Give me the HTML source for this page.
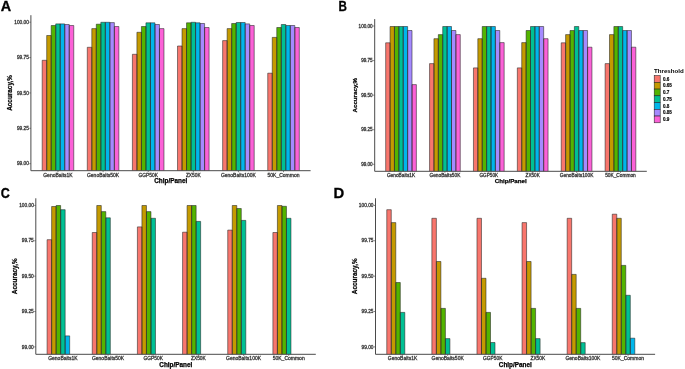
<!DOCTYPE html>
<html><head><meta charset="utf-8"><style>
html,body{margin:0;padding:0;background:#fff;}
svg{display:block;will-change:transform;}
text{font-family:"Liberation Sans",sans-serif;}
.tk{filter:url(#bl);fill:#3a3a3a;stroke:#3a3a3a;stroke-width:0.3px;}
.tx{filter:url(#bl);fill:#3a3a3a;stroke:#3a3a3a;stroke-width:0.3px;}
.tt{font-weight:bold;fill:#000;stroke:#000;stroke-width:0.25px;}
.lt{font-size:14.4px;font-weight:bold;fill:#000;stroke:#000;stroke-width:0.3px;}
.lgt{font-size:6.15px;font-weight:bold;fill:#000;}
.lg{font-size:4.6px;font-weight:bold;fill:#000;stroke:#000;stroke-width:0.15px;}
</style></head><body>
<svg width="685" height="369" viewBox="0 0 685 369">
<defs><filter id="bl" x="-5%" y="-20%" width="110%" height="140%"><feGaussianBlur stdDeviation="0.28"/></filter></defs>
<rect width="685" height="369" fill="#fff"/>
<rect x="42.18" y="60.3" width="4.51" height="110.4" fill="#F8766D"/>
<rect x="46.69" y="35.5" width="4.51" height="135.2" fill="#C49A00"/>
<rect x="51.2" y="25.5" width="4.51" height="145.2" fill="#53B400"/>
<rect x="55.71" y="23.9" width="4.51" height="146.8" fill="#00C094"/>
<rect x="60.22" y="23.9" width="4.51" height="146.8" fill="#00B6EB"/>
<rect x="64.73" y="24.5" width="4.51" height="146.2" fill="#A58AFF"/>
<rect x="69.25" y="25.5" width="4.51" height="145.2" fill="#FB61D7"/>
<rect x="87.29" y="47.3" width="4.51" height="123.4" fill="#F8766D"/>
<rect x="91.8" y="28.6" width="4.51" height="142.1" fill="#C49A00"/>
<rect x="96.31" y="24.2" width="4.51" height="146.5" fill="#53B400"/>
<rect x="100.83" y="22.3" width="4.51" height="148.4" fill="#00C094"/>
<rect x="105.34" y="22.3" width="4.51" height="148.4" fill="#00B6EB"/>
<rect x="109.85" y="22.6" width="4.51" height="148.1" fill="#A58AFF"/>
<rect x="114.36" y="26.5" width="4.51" height="144.2" fill="#FB61D7"/>
<rect x="132.4" y="54.3" width="4.51" height="116.4" fill="#F8766D"/>
<rect x="136.92" y="32.3" width="4.51" height="138.4" fill="#C49A00"/>
<rect x="141.43" y="26.5" width="4.51" height="144.2" fill="#53B400"/>
<rect x="145.94" y="22.8" width="4.51" height="147.9" fill="#00C094"/>
<rect x="150.45" y="22.8" width="4.51" height="147.9" fill="#00B6EB"/>
<rect x="154.96" y="24.5" width="4.51" height="146.2" fill="#A58AFF"/>
<rect x="159.47" y="28.6" width="4.51" height="142.1" fill="#FB61D7"/>
<rect x="177.52" y="46" width="4.51" height="124.7" fill="#F8766D"/>
<rect x="182.03" y="28.6" width="4.51" height="142.1" fill="#C49A00"/>
<rect x="186.54" y="22.8" width="4.51" height="147.9" fill="#53B400"/>
<rect x="191.05" y="22.3" width="4.51" height="148.4" fill="#00C094"/>
<rect x="195.56" y="22.8" width="4.51" height="147.9" fill="#00B6EB"/>
<rect x="200.07" y="23.5" width="4.51" height="147.2" fill="#A58AFF"/>
<rect x="204.58" y="27.5" width="4.51" height="143.2" fill="#FB61D7"/>
<rect x="222.63" y="40.6" width="4.51" height="130.1" fill="#F8766D"/>
<rect x="227.14" y="28.6" width="4.51" height="142.1" fill="#C49A00"/>
<rect x="231.65" y="23.5" width="4.51" height="147.2" fill="#53B400"/>
<rect x="236.16" y="22.5" width="4.51" height="148.2" fill="#00C094"/>
<rect x="240.68" y="22.5" width="4.51" height="148.2" fill="#00B6EB"/>
<rect x="245.19" y="23.9" width="4.51" height="146.8" fill="#A58AFF"/>
<rect x="249.7" y="25.5" width="4.51" height="145.2" fill="#FB61D7"/>
<rect x="267.74" y="73.2" width="4.51" height="97.5" fill="#F8766D"/>
<rect x="272.25" y="37.4" width="4.51" height="133.3" fill="#C49A00"/>
<rect x="276.77" y="27.5" width="4.51" height="143.2" fill="#53B400"/>
<rect x="281.28" y="24.5" width="4.51" height="146.2" fill="#00C094"/>
<rect x="285.79" y="25.5" width="4.51" height="145.2" fill="#00B6EB"/>
<rect x="290.3" y="25.5" width="4.51" height="145.2" fill="#A58AFF"/>
<rect x="294.81" y="27.5" width="4.51" height="143.2" fill="#FB61D7"/>
<path d="M42.18 170.7V60.3H46.69V170.7M46.69 170.7V35.5H51.2V170.7M51.2 170.7V25.5H55.71V170.7M55.71 170.7V23.9H60.22V170.7M60.22 170.7V23.9H64.73V170.7M64.73 170.7V24.5H69.25V170.7M69.25 170.7V25.5H73.76V170.7M87.29 170.7V47.3H91.8V170.7M91.8 170.7V28.6H96.31V170.7M96.31 170.7V24.2H100.83V170.7M100.83 170.7V22.3H105.34V170.7M105.34 170.7V22.3H109.85V170.7M109.85 170.7V22.6H114.36V170.7M114.36 170.7V26.5H118.87V170.7M132.4 170.7V54.3H136.92V170.7M136.92 170.7V32.3H141.43V170.7M141.43 170.7V26.5H145.94V170.7M145.94 170.7V22.8H150.45V170.7M150.45 170.7V22.8H154.96V170.7M154.96 170.7V24.5H159.47V170.7M159.47 170.7V28.6H163.98V170.7M177.52 170.7V46H182.03V170.7M182.03 170.7V28.6H186.54V170.7M186.54 170.7V22.8H191.05V170.7M191.05 170.7V22.3H195.56V170.7M195.56 170.7V22.8H200.07V170.7M200.07 170.7V23.5H204.58V170.7M204.58 170.7V27.5H209.1V170.7M222.63 170.7V40.6H227.14V170.7M227.14 170.7V28.6H231.65V170.7M231.65 170.7V23.5H236.16V170.7M236.16 170.7V22.5H240.68V170.7M240.68 170.7V22.5H245.19V170.7M245.19 170.7V23.9H249.7V170.7M249.7 170.7V25.5H254.21V170.7M267.74 170.7V73.2H272.25V170.7M272.25 170.7V37.4H276.77V170.7M276.77 170.7V27.5H281.28V170.7M281.28 170.7V24.5H285.79V170.7M285.79 170.7V25.5H290.3V170.7M290.3 170.7V25.5H294.81V170.7M294.81 170.7V27.5H299.32V170.7" fill="none" stroke="#222" stroke-width="0.55"/>
<path d="M30.9 15.2V170.7H310.6" fill="none" stroke="#4a4a4a" stroke-width="1.0"/>
<path d="M29.3 22.2H30.9" stroke="#4a4a4a" stroke-width="0.7"/>
<text x="28.9" y="23.9" text-anchor="end" class="tk" font-size="4.8">100.00</text>
<path d="M29.3 57.58H30.9" stroke="#4a4a4a" stroke-width="0.7"/>
<text x="28.9" y="59.28" text-anchor="end" class="tk" font-size="4.8">99.75</text>
<path d="M29.3 92.95H30.9" stroke="#4a4a4a" stroke-width="0.7"/>
<text x="28.9" y="94.65" text-anchor="end" class="tk" font-size="4.8">99.50</text>
<path d="M29.3 128.32H30.9" stroke="#4a4a4a" stroke-width="0.7"/>
<text x="28.9" y="130.02" text-anchor="end" class="tk" font-size="4.8">99.25</text>
<path d="M29.3 163.7H30.9" stroke="#4a4a4a" stroke-width="0.7"/>
<text x="28.9" y="165.4" text-anchor="end" class="tk" font-size="4.8">99.00</text>
<path d="M57.97 170.7V172.2" stroke="#4a4a4a" stroke-width="0.7"/>
<text x="57.97" y="177" text-anchor="middle" class="tx" font-size="5">GenoBaits1K</text>
<path d="M103.08 170.7V172.2" stroke="#4a4a4a" stroke-width="0.7"/>
<text x="103.08" y="177" text-anchor="middle" class="tx" font-size="5">GenoBaits50K</text>
<path d="M148.19 170.7V172.2" stroke="#4a4a4a" stroke-width="0.7"/>
<text x="148.19" y="177" text-anchor="middle" class="tx" font-size="5" textLength="19.5" lengthAdjust="spacingAndGlyphs">GGP50K</text>
<path d="M193.31 170.7V172.2" stroke="#4a4a4a" stroke-width="0.7"/>
<text x="193.31" y="177" text-anchor="middle" class="tx" font-size="5" textLength="14.8" lengthAdjust="spacingAndGlyphs">ZX50K</text>
<path d="M238.42 170.7V172.2" stroke="#4a4a4a" stroke-width="0.7"/>
<text x="238.42" y="177" text-anchor="middle" class="tx" font-size="5">GenoBaits100K</text>
<path d="M283.53 170.7V172.2" stroke="#4a4a4a" stroke-width="0.7"/>
<text x="283.53" y="177" text-anchor="middle" class="tx" font-size="5">50K_Common</text>
<text x="170.75" y="182.6" text-anchor="middle" class="tt" font-size="6.4">Chip/Panel</text>
<text transform="translate(12.1 92.95) rotate(-90)" text-anchor="middle" class="tt" font-size="6.4">Accuracy,%</text>
<text transform="translate(0.8 10.8) scale(1.0 1)" class="lt">A</text>
<rect x="385.67" y="42.8" width="4.39" height="128.5" fill="#F8766D"/>
<rect x="390.06" y="26.5" width="4.39" height="144.8" fill="#C49A00"/>
<rect x="394.45" y="26.5" width="4.39" height="144.8" fill="#53B400"/>
<rect x="398.84" y="26.5" width="4.39" height="144.8" fill="#00C094"/>
<rect x="403.23" y="26.5" width="4.39" height="144.8" fill="#00B6EB"/>
<rect x="407.62" y="30.5" width="4.39" height="140.8" fill="#A58AFF"/>
<rect x="412" y="84.6" width="4.39" height="86.7" fill="#FB61D7"/>
<rect x="429.56" y="63.6" width="4.39" height="107.7" fill="#F8766D"/>
<rect x="433.95" y="38.7" width="4.39" height="132.6" fill="#C49A00"/>
<rect x="438.34" y="34.6" width="4.39" height="136.7" fill="#53B400"/>
<rect x="442.72" y="26.5" width="4.39" height="144.8" fill="#00C094"/>
<rect x="447.11" y="26.5" width="4.39" height="144.8" fill="#00B6EB"/>
<rect x="451.5" y="30.5" width="4.39" height="140.8" fill="#A58AFF"/>
<rect x="455.89" y="34.6" width="4.39" height="136.7" fill="#FB61D7"/>
<rect x="473.45" y="67.9" width="4.39" height="103.4" fill="#F8766D"/>
<rect x="477.83" y="38.7" width="4.39" height="132.6" fill="#C49A00"/>
<rect x="482.22" y="26.5" width="4.39" height="144.8" fill="#53B400"/>
<rect x="486.61" y="26.5" width="4.39" height="144.8" fill="#00C094"/>
<rect x="491" y="26.5" width="4.39" height="144.8" fill="#00B6EB"/>
<rect x="495.39" y="30.5" width="4.39" height="140.8" fill="#A58AFF"/>
<rect x="499.78" y="42.6" width="4.39" height="128.7" fill="#FB61D7"/>
<rect x="517.33" y="67.9" width="4.39" height="103.4" fill="#F8766D"/>
<rect x="521.72" y="42.6" width="4.39" height="128.7" fill="#C49A00"/>
<rect x="526.11" y="30.5" width="4.39" height="140.8" fill="#53B400"/>
<rect x="530.5" y="26.5" width="4.39" height="144.8" fill="#00C094"/>
<rect x="534.89" y="26.5" width="4.39" height="144.8" fill="#00B6EB"/>
<rect x="539.28" y="26.5" width="4.39" height="144.8" fill="#A58AFF"/>
<rect x="543.67" y="38.7" width="4.39" height="132.6" fill="#FB61D7"/>
<rect x="561.22" y="42.8" width="4.39" height="128.5" fill="#F8766D"/>
<rect x="565.61" y="34.6" width="4.39" height="136.7" fill="#C49A00"/>
<rect x="570" y="30.5" width="4.39" height="140.8" fill="#53B400"/>
<rect x="574.39" y="26.5" width="4.39" height="144.8" fill="#00C094"/>
<rect x="578.77" y="30.5" width="4.39" height="140.8" fill="#00B6EB"/>
<rect x="583.16" y="30.5" width="4.39" height="140.8" fill="#A58AFF"/>
<rect x="587.55" y="47.2" width="4.39" height="124.1" fill="#FB61D7"/>
<rect x="605.11" y="63.6" width="4.39" height="107.7" fill="#F8766D"/>
<rect x="609.5" y="34.6" width="4.39" height="136.7" fill="#C49A00"/>
<rect x="613.88" y="26.5" width="4.39" height="144.8" fill="#53B400"/>
<rect x="618.27" y="26.5" width="4.39" height="144.8" fill="#00C094"/>
<rect x="622.66" y="30.5" width="4.39" height="140.8" fill="#00B6EB"/>
<rect x="627.05" y="30.5" width="4.39" height="140.8" fill="#A58AFF"/>
<rect x="631.44" y="47.2" width="4.39" height="124.1" fill="#FB61D7"/>
<path d="M385.67 171.3V42.8H390.06V171.3M390.06 171.3V26.5H394.45V171.3M394.45 171.3V26.5H398.84V171.3M398.84 171.3V26.5H403.23V171.3M403.23 171.3V26.5H407.62V171.3M407.62 171.3V30.5H412V171.3M412 171.3V84.6H416.39V171.3M429.56 171.3V63.6H433.95V171.3M433.95 171.3V38.7H438.34V171.3M438.34 171.3V34.6H442.72V171.3M442.72 171.3V26.5H447.11V171.3M447.11 171.3V26.5H451.5V171.3M451.5 171.3V30.5H455.89V171.3M455.89 171.3V34.6H460.28V171.3M473.45 171.3V67.9H477.83V171.3M477.83 171.3V38.7H482.22V171.3M482.22 171.3V26.5H486.61V171.3M486.61 171.3V26.5H491V171.3M491 171.3V26.5H495.39V171.3M495.39 171.3V30.5H499.78V171.3M499.78 171.3V42.6H504.17V171.3M517.33 171.3V67.9H521.72V171.3M521.72 171.3V42.6H526.11V171.3M526.11 171.3V30.5H530.5V171.3M530.5 171.3V26.5H534.89V171.3M534.89 171.3V26.5H539.28V171.3M539.28 171.3V26.5H543.67V171.3M543.67 171.3V38.7H548.05V171.3M561.22 171.3V42.8H565.61V171.3M565.61 171.3V34.6H570V171.3M570 171.3V30.5H574.39V171.3M574.39 171.3V26.5H578.77V171.3M578.77 171.3V30.5H583.16V171.3M583.16 171.3V30.5H587.55V171.3M587.55 171.3V47.2H591.94V171.3M605.11 171.3V63.6H609.5V171.3M609.5 171.3V34.6H613.88V171.3M613.88 171.3V26.5H618.27V171.3M618.27 171.3V26.5H622.66V171.3M622.66 171.3V30.5H627.05V171.3M627.05 171.3V30.5H631.44V171.3M631.44 171.3V47.2H635.83V171.3" fill="none" stroke="#222" stroke-width="0.55"/>
<path d="M374.7 19.1V171.3H646.8" fill="none" stroke="#4a4a4a" stroke-width="1.0"/>
<path d="M373.1 26H374.7" stroke="#4a4a4a" stroke-width="0.7"/>
<text x="372.7" y="27.7" text-anchor="end" class="tk" font-size="4.61">100.00</text>
<path d="M373.1 60.58H374.7" stroke="#4a4a4a" stroke-width="0.7"/>
<text x="372.7" y="62.28" text-anchor="end" class="tk" font-size="4.61">99.75</text>
<path d="M373.1 95.15H374.7" stroke="#4a4a4a" stroke-width="0.7"/>
<text x="372.7" y="96.85" text-anchor="end" class="tk" font-size="4.61">99.50</text>
<path d="M373.1 129.73H374.7" stroke="#4a4a4a" stroke-width="0.7"/>
<text x="372.7" y="131.43" text-anchor="end" class="tk" font-size="4.61">99.25</text>
<path d="M373.1 164.3H374.7" stroke="#4a4a4a" stroke-width="0.7"/>
<text x="372.7" y="166" text-anchor="end" class="tk" font-size="4.61">99.00</text>
<path d="M401.03 171.3V172.8" stroke="#4a4a4a" stroke-width="0.7"/>
<text x="401.03" y="177" text-anchor="middle" class="tx" font-size="4.8">GenoBaits1K</text>
<path d="M444.92 171.3V172.8" stroke="#4a4a4a" stroke-width="0.7"/>
<text x="444.92" y="177" text-anchor="middle" class="tx" font-size="4.8">GenoBaits50K</text>
<path d="M488.81 171.3V172.8" stroke="#4a4a4a" stroke-width="0.7"/>
<text x="488.81" y="177" text-anchor="middle" class="tx" font-size="4.8" textLength="18.72" lengthAdjust="spacingAndGlyphs">GGP50K</text>
<path d="M532.69 171.3V172.8" stroke="#4a4a4a" stroke-width="0.7"/>
<text x="532.69" y="177" text-anchor="middle" class="tx" font-size="4.8" textLength="14.21" lengthAdjust="spacingAndGlyphs">ZX50K</text>
<path d="M576.58 171.3V172.8" stroke="#4a4a4a" stroke-width="0.7"/>
<text x="576.58" y="177" text-anchor="middle" class="tx" font-size="4.8">GenoBaits100K</text>
<path d="M620.47 171.3V172.8" stroke="#4a4a4a" stroke-width="0.7"/>
<text x="620.47" y="177" text-anchor="middle" class="tx" font-size="4.8">50K_Common</text>
<text x="510.75" y="182.6" text-anchor="middle" class="tt" font-size="6.2">Chip/Panel</text>
<text transform="translate(356.6 95.2) rotate(-90)" text-anchor="middle" class="tt" font-size="6.2">Accuracy,%</text>
<text transform="translate(338.4 10.8) scale(0.81 1)" class="lt">B</text>
<rect x="47.09" y="239.7" width="4.52" height="114.6" fill="#F8766D"/>
<rect x="51.61" y="206.5" width="4.52" height="147.8" fill="#C49A00"/>
<rect x="56.12" y="205.5" width="4.52" height="148.8" fill="#53B400"/>
<rect x="60.64" y="209.7" width="4.52" height="144.6" fill="#00C094"/>
<rect x="65.15" y="335.9" width="4.52" height="18.4" fill="#00B6EB"/>
<rect x="92.25" y="232.5" width="4.52" height="121.8" fill="#F8766D"/>
<rect x="96.77" y="205.5" width="4.52" height="148.8" fill="#C49A00"/>
<rect x="101.28" y="211.6" width="4.52" height="142.7" fill="#53B400"/>
<rect x="105.8" y="217.8" width="4.52" height="136.5" fill="#00C094"/>
<rect x="137.41" y="226.9" width="4.52" height="127.4" fill="#F8766D"/>
<rect x="141.93" y="205.5" width="4.52" height="148.8" fill="#C49A00"/>
<rect x="146.45" y="211.6" width="4.52" height="142.7" fill="#53B400"/>
<rect x="150.96" y="218.3" width="4.52" height="136" fill="#00C094"/>
<rect x="182.57" y="232.2" width="4.52" height="122.1" fill="#F8766D"/>
<rect x="187.09" y="205.5" width="4.52" height="148.8" fill="#C49A00"/>
<rect x="191.61" y="205.5" width="4.52" height="148.8" fill="#53B400"/>
<rect x="196.12" y="221.4" width="4.52" height="132.9" fill="#00C094"/>
<rect x="227.74" y="230.1" width="4.52" height="124.2" fill="#F8766D"/>
<rect x="232.25" y="205.5" width="4.52" height="148.8" fill="#C49A00"/>
<rect x="236.77" y="208.5" width="4.52" height="145.8" fill="#53B400"/>
<rect x="241.28" y="220.4" width="4.52" height="133.9" fill="#00C094"/>
<rect x="272.9" y="232.5" width="4.52" height="121.8" fill="#F8766D"/>
<rect x="277.41" y="205.5" width="4.52" height="148.8" fill="#C49A00"/>
<rect x="281.93" y="206.3" width="4.52" height="148" fill="#53B400"/>
<rect x="286.45" y="218.3" width="4.52" height="136" fill="#00C094"/>
<path d="M47.09 354.3V239.7H51.61V354.3M51.61 354.3V206.5H56.12V354.3M56.12 354.3V205.5H60.64V354.3M60.64 354.3V209.7H65.15V354.3M65.15 354.3V335.9H69.67V354.3M92.25 354.3V232.5H96.77V354.3M96.77 354.3V205.5H101.28V354.3M101.28 354.3V211.6H105.8V354.3M105.8 354.3V217.8H110.32V354.3M137.41 354.3V226.9H141.93V354.3M141.93 354.3V205.5H146.45V354.3M146.45 354.3V211.6H150.96V354.3M150.96 354.3V218.3H155.48V354.3M182.57 354.3V232.2H187.09V354.3M187.09 354.3V205.5H191.61V354.3M191.61 354.3V205.5H196.12V354.3M196.12 354.3V221.4H200.64V354.3M227.74 354.3V230.1H232.25V354.3M232.25 354.3V205.5H236.77V354.3M236.77 354.3V208.5H241.28V354.3M241.28 354.3V220.4H245.8V354.3M272.9 354.3V232.5H277.41V354.3M277.41 354.3V205.5H281.93V354.3M281.93 354.3V206.3H286.45V354.3M286.45 354.3V218.3H290.96V354.3" fill="none" stroke="#222" stroke-width="0.55"/>
<path d="M35.8 198.3V354.3H315.8" fill="none" stroke="#4a4a4a" stroke-width="1.0"/>
<path d="M34.2 205.4H35.8" stroke="#4a4a4a" stroke-width="0.7"/>
<text x="33.8" y="207.1" text-anchor="end" class="tk" font-size="4.8">100.00</text>
<path d="M34.2 240.78H35.8" stroke="#4a4a4a" stroke-width="0.7"/>
<text x="33.8" y="242.47" text-anchor="end" class="tk" font-size="4.8">99.75</text>
<path d="M34.2 276.15H35.8" stroke="#4a4a4a" stroke-width="0.7"/>
<text x="33.8" y="277.85" text-anchor="end" class="tk" font-size="4.8">99.50</text>
<path d="M34.2 311.52H35.8" stroke="#4a4a4a" stroke-width="0.7"/>
<text x="33.8" y="313.22" text-anchor="end" class="tk" font-size="4.8">99.25</text>
<path d="M34.2 346.9H35.8" stroke="#4a4a4a" stroke-width="0.7"/>
<text x="33.8" y="348.6" text-anchor="end" class="tk" font-size="4.8">99.00</text>
<path d="M62.9 354.3V355.8" stroke="#4a4a4a" stroke-width="0.7"/>
<text x="62.9" y="360" text-anchor="middle" class="tx" font-size="5">GenoBaits1K</text>
<path d="M108.06 354.3V355.8" stroke="#4a4a4a" stroke-width="0.7"/>
<text x="108.06" y="360" text-anchor="middle" class="tx" font-size="5">GenoBaits50K</text>
<path d="M153.22 354.3V355.8" stroke="#4a4a4a" stroke-width="0.7"/>
<text x="153.22" y="360" text-anchor="middle" class="tx" font-size="5" textLength="19.5" lengthAdjust="spacingAndGlyphs">GGP50K</text>
<path d="M198.38 354.3V355.8" stroke="#4a4a4a" stroke-width="0.7"/>
<text x="198.38" y="360" text-anchor="middle" class="tx" font-size="5" textLength="14.8" lengthAdjust="spacingAndGlyphs">ZX50K</text>
<path d="M243.54 354.3V355.8" stroke="#4a4a4a" stroke-width="0.7"/>
<text x="243.54" y="360" text-anchor="middle" class="tx" font-size="5">GenoBaits100K</text>
<path d="M288.7 354.3V355.8" stroke="#4a4a4a" stroke-width="0.7"/>
<text x="288.7" y="360" text-anchor="middle" class="tx" font-size="5">50K_Common</text>
<text x="175.8" y="366.5" text-anchor="middle" class="tt" font-size="6.4">Chip/Panel</text>
<text transform="translate(17.1 276.3) rotate(-90)" text-anchor="middle" class="tt" font-size="6.4">Accuracy,%</text>
<text transform="translate(0.8 197.6) scale(0.87 1)" class="lt">C</text>
<rect x="386.77" y="209.7" width="4.51" height="144.6" fill="#F8766D"/>
<rect x="391.28" y="222.6" width="4.51" height="131.7" fill="#C49A00"/>
<rect x="395.79" y="282.5" width="4.51" height="71.8" fill="#53B400"/>
<rect x="400.3" y="312.4" width="4.51" height="41.9" fill="#00C094"/>
<rect x="431.87" y="218.3" width="4.51" height="136" fill="#F8766D"/>
<rect x="436.38" y="261.5" width="4.51" height="92.8" fill="#C49A00"/>
<rect x="440.89" y="308.4" width="4.51" height="45.9" fill="#53B400"/>
<rect x="445.4" y="338.6" width="4.51" height="15.7" fill="#00C094"/>
<rect x="476.97" y="218.3" width="4.51" height="136" fill="#F8766D"/>
<rect x="481.48" y="278.3" width="4.51" height="76" fill="#C49A00"/>
<rect x="485.99" y="312.4" width="4.51" height="41.9" fill="#53B400"/>
<rect x="490.5" y="342.5" width="4.51" height="11.8" fill="#00C094"/>
<rect x="522.06" y="222.6" width="4.51" height="131.7" fill="#F8766D"/>
<rect x="526.57" y="261.5" width="4.51" height="92.8" fill="#C49A00"/>
<rect x="531.08" y="308.4" width="4.51" height="45.9" fill="#53B400"/>
<rect x="535.59" y="338.6" width="4.51" height="15.7" fill="#00C094"/>
<rect x="567.16" y="218.3" width="4.51" height="136" fill="#F8766D"/>
<rect x="571.67" y="274.4" width="4.51" height="79.9" fill="#C49A00"/>
<rect x="576.18" y="308.4" width="4.51" height="45.9" fill="#53B400"/>
<rect x="580.69" y="342.6" width="4.51" height="11.7" fill="#00C094"/>
<rect x="612.26" y="214.2" width="4.51" height="140.1" fill="#F8766D"/>
<rect x="616.77" y="218.3" width="4.51" height="136" fill="#C49A00"/>
<rect x="621.28" y="265.4" width="4.51" height="88.9" fill="#53B400"/>
<rect x="625.79" y="295.3" width="4.51" height="59" fill="#00C094"/>
<rect x="630.3" y="338.2" width="4.51" height="16.1" fill="#00B6EB"/>
<path d="M386.77 354.3V209.7H391.28V354.3M391.28 354.3V222.6H395.79V354.3M395.79 354.3V282.5H400.3V354.3M400.3 354.3V312.4H404.81V354.3M431.87 354.3V218.3H436.38V354.3M436.38 354.3V261.5H440.89V354.3M440.89 354.3V308.4H445.4V354.3M445.4 354.3V338.6H449.91V354.3M476.97 354.3V218.3H481.48V354.3M481.48 354.3V278.3H485.99V354.3M485.99 354.3V312.4H490.5V354.3M490.5 354.3V342.5H495.01V354.3M522.06 354.3V222.6H526.57V354.3M526.57 354.3V261.5H531.08V354.3M531.08 354.3V308.4H535.59V354.3M535.59 354.3V338.6H540.1V354.3M567.16 354.3V218.3H571.67V354.3M571.67 354.3V274.4H576.18V354.3M576.18 354.3V308.4H580.69V354.3M580.69 354.3V342.6H585.2V354.3M612.26 354.3V214.2H616.77V354.3M616.77 354.3V218.3H621.28V354.3M621.28 354.3V265.4H625.79V354.3M625.79 354.3V295.3H630.3V354.3M630.3 354.3V338.2H634.81V354.3" fill="none" stroke="#222" stroke-width="0.55"/>
<path d="M375.5 198.3V354.3H655.1" fill="none" stroke="#4a4a4a" stroke-width="1.0"/>
<path d="M373.9 205.4H375.5" stroke="#4a4a4a" stroke-width="0.7"/>
<text x="373.5" y="207.1" text-anchor="end" class="tk" font-size="4.8">100.00</text>
<path d="M373.9 240.78H375.5" stroke="#4a4a4a" stroke-width="0.7"/>
<text x="373.5" y="242.47" text-anchor="end" class="tk" font-size="4.8">99.75</text>
<path d="M373.9 276.15H375.5" stroke="#4a4a4a" stroke-width="0.7"/>
<text x="373.5" y="277.85" text-anchor="end" class="tk" font-size="4.8">99.50</text>
<path d="M373.9 311.52H375.5" stroke="#4a4a4a" stroke-width="0.7"/>
<text x="373.5" y="313.22" text-anchor="end" class="tk" font-size="4.8">99.25</text>
<path d="M373.9 346.9H375.5" stroke="#4a4a4a" stroke-width="0.7"/>
<text x="373.5" y="348.6" text-anchor="end" class="tk" font-size="4.8">99.00</text>
<path d="M402.56 354.3V355.8" stroke="#4a4a4a" stroke-width="0.7"/>
<text x="402.56" y="360" text-anchor="middle" class="tx" font-size="5">GenoBaits1K</text>
<path d="M447.65 354.3V355.8" stroke="#4a4a4a" stroke-width="0.7"/>
<text x="447.65" y="360" text-anchor="middle" class="tx" font-size="5">GenoBaits50K</text>
<path d="M492.75 354.3V355.8" stroke="#4a4a4a" stroke-width="0.7"/>
<text x="492.75" y="360" text-anchor="middle" class="tx" font-size="5" textLength="19.5" lengthAdjust="spacingAndGlyphs">GGP50K</text>
<path d="M537.85 354.3V355.8" stroke="#4a4a4a" stroke-width="0.7"/>
<text x="537.85" y="360" text-anchor="middle" class="tx" font-size="5" textLength="14.8" lengthAdjust="spacingAndGlyphs">ZX50K</text>
<path d="M582.95 354.3V355.8" stroke="#4a4a4a" stroke-width="0.7"/>
<text x="582.95" y="360" text-anchor="middle" class="tx" font-size="5">GenoBaits100K</text>
<path d="M628.04 354.3V355.8" stroke="#4a4a4a" stroke-width="0.7"/>
<text x="628.04" y="360" text-anchor="middle" class="tx" font-size="5">50K_Common</text>
<text x="515.3" y="366.5" text-anchor="middle" class="tt" font-size="6.4">Chip/Panel</text>
<text transform="translate(357.1 276.3) rotate(-90)" text-anchor="middle" class="tt" font-size="6.4">Accuracy,%</text>
<text transform="translate(333.6 197.6) scale(1.03 1)" class="lt">D</text>
<text x="654" y="72.6" class="lgt">Threshold</text>
<rect x="654.2" y="75.6" width="6" height="6.74" fill="#F8766D" stroke="#222" stroke-width="0.55"/>
<text x="662.9" y="80.72" class="lg">0.6</text>
<rect x="654.2" y="82.34" width="6" height="6.74" fill="#C49A00" stroke="#222" stroke-width="0.55"/>
<text x="662.9" y="87.46" class="lg">0.65</text>
<rect x="654.2" y="89.08" width="6" height="6.74" fill="#53B400" stroke="#222" stroke-width="0.55"/>
<text x="662.9" y="94.2" class="lg">0.7</text>
<rect x="654.2" y="95.82" width="6" height="6.74" fill="#00C094" stroke="#222" stroke-width="0.55"/>
<text x="662.9" y="100.94" class="lg">0.75</text>
<rect x="654.2" y="102.56" width="6" height="6.74" fill="#00B6EB" stroke="#222" stroke-width="0.55"/>
<text x="662.9" y="107.68" class="lg">0.8</text>
<rect x="654.2" y="109.3" width="6" height="6.74" fill="#A58AFF" stroke="#222" stroke-width="0.55"/>
<text x="662.9" y="114.42" class="lg">0.85</text>
<rect x="654.2" y="116.04" width="6" height="6.74" fill="#FB61D7" stroke="#222" stroke-width="0.55"/>
<text x="662.9" y="121.16" class="lg">0.9</text>
</svg>
</body></html>
